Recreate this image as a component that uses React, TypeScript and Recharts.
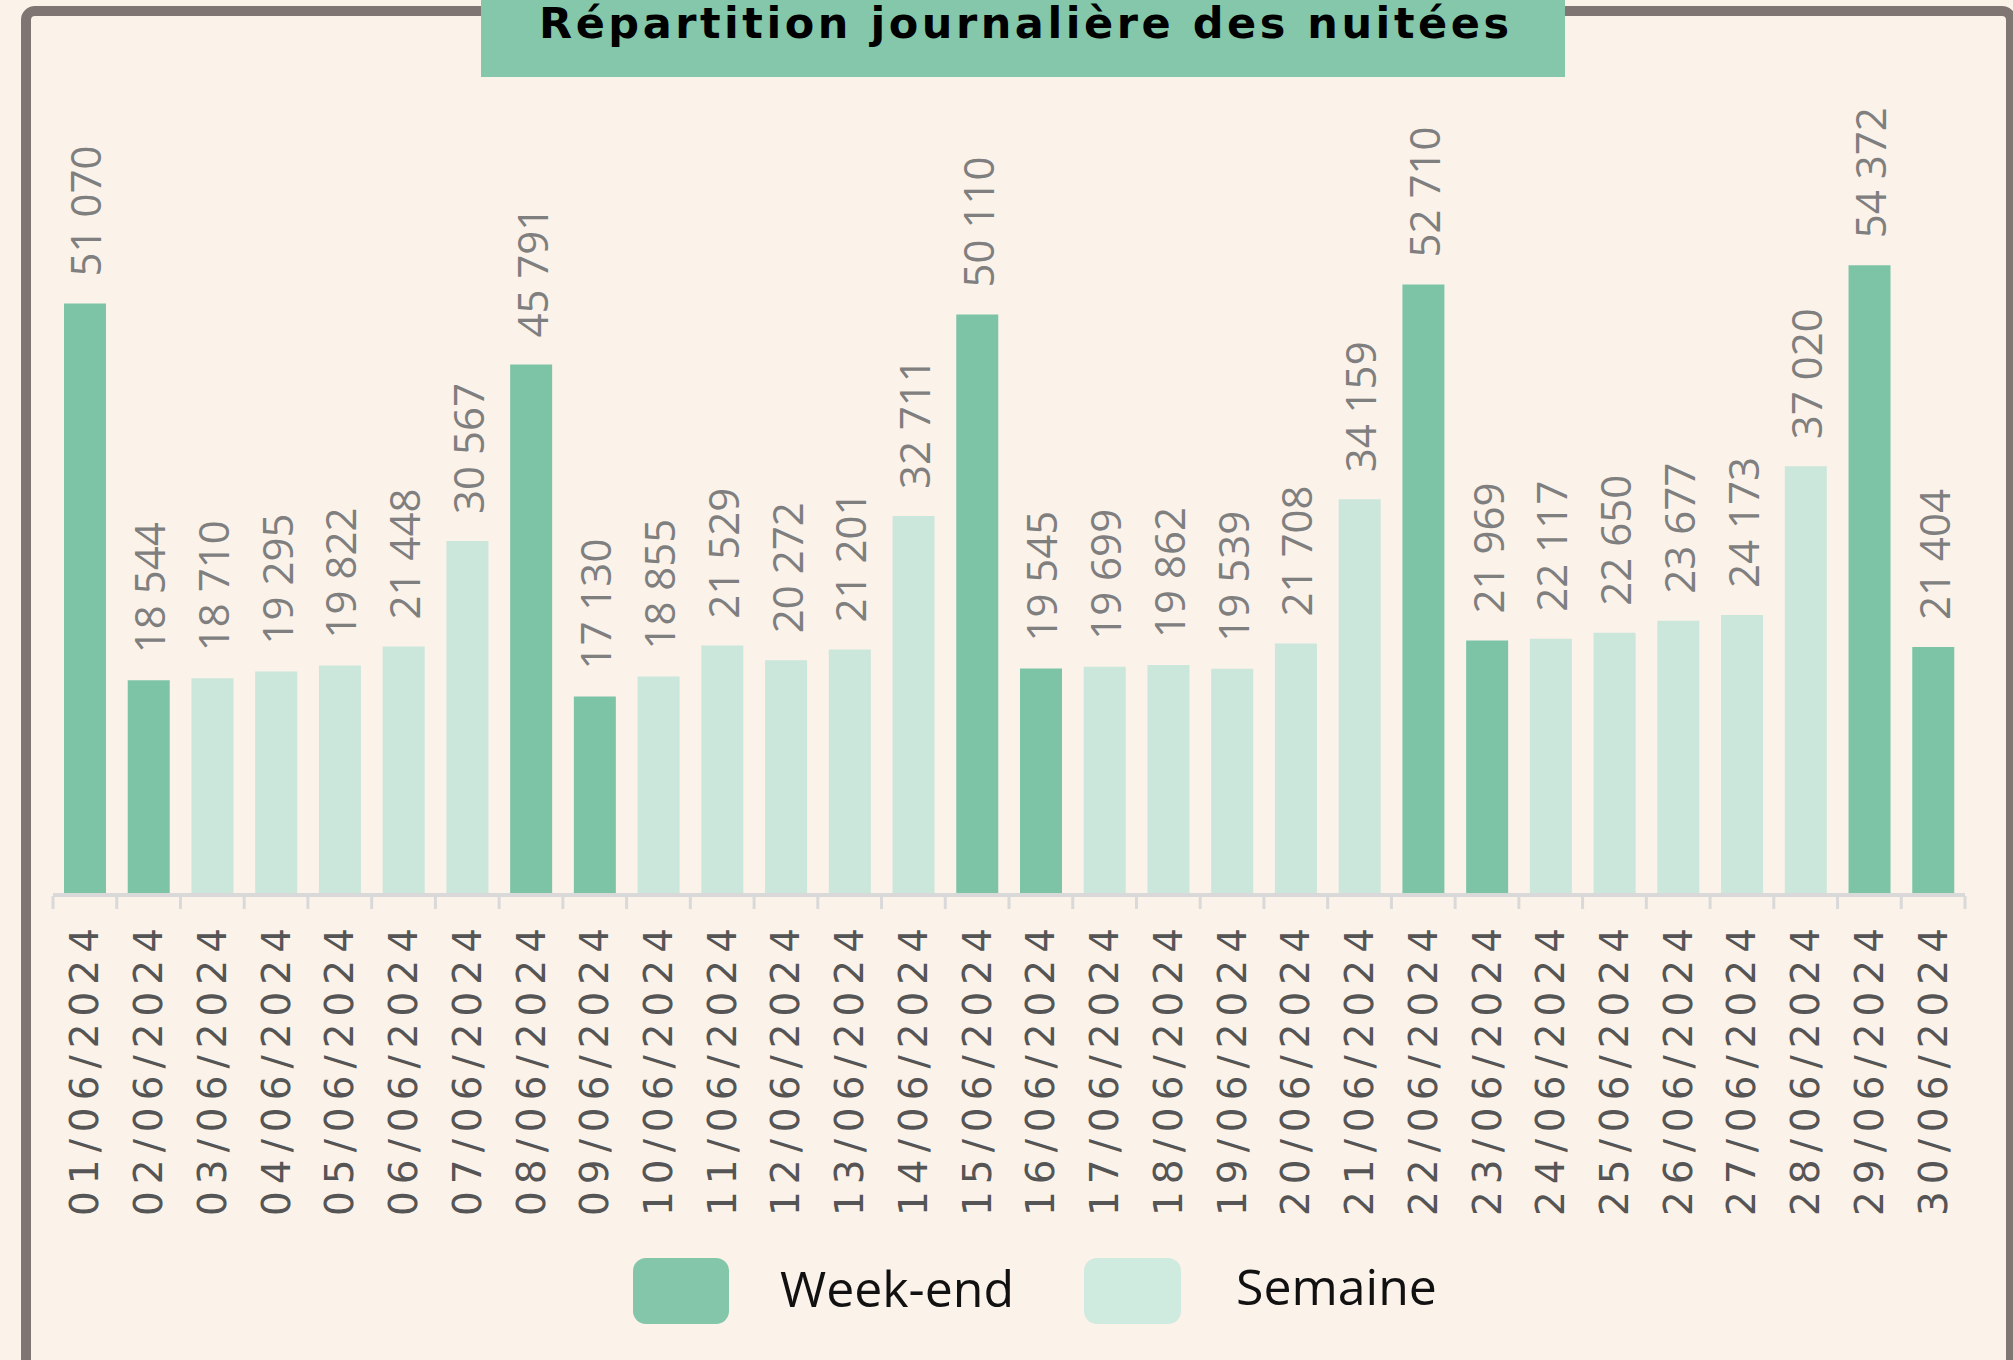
import { Bar, BarChart, Cell, LabelList, Legend, XAxis, YAxis } from 'recharts'

const DATES = [
  '01/06/2024', '02/06/2024', '03/06/2024', '04/06/2024', '05/06/2024',
  '06/06/2024', '07/06/2024', '08/06/2024', '09/06/2024', '10/06/2024',
  '11/06/2024', '12/06/2024', '13/06/2024', '14/06/2024', '15/06/2024',
  '16/06/2024', '17/06/2024', '18/06/2024', '19/06/2024', '20/06/2024',
  '21/06/2024', '22/06/2024', '23/06/2024', '24/06/2024', '25/06/2024',
  '26/06/2024', '27/06/2024', '28/06/2024', '29/06/2024', '30/06/2024',
]

const NUITEES = [
  51070, 18544, 18710, 19295, 19822, 21448, 30567, 45791, 17130, 18855,
  21529, 20272, 21201, 32711, 50110, 19545, 19699, 19862, 19539, 21708,
  34159, 52710, 21969, 22117, 22650, 23677, 24173, 37020, 54372, 21404,
]

// true = week-end (samedi / dimanche)
const WEEKEND = [
  true, true, false, false, false, false, false, true, true, false,
  false, false, false, false, true, true, false, false, false, false,
  false, true, true, false, false, false, false, false, true, true,
]

const LEGEND_LABELS = ['Week-end', 'Semaine']

const WEEKEND_COLOR = '#7DC4A7'
const SEMAINE_COLOR = '#CBE6DB'
const BG = '#FBF2EA'
const FONT = '"Open Sans", "DejaVu Sans", sans-serif'
const WIDE_FONT = '"DejaVu Sans", "Open Sans", sans-serif'

const W = 2013
const H = 1360
const MARGIN = { top: 200, right: 48, bottom: 135, left: 53 }
const BAND = (W - MARGIN.left - MARGIN.right) / DATES.length

const data = DATES.map((date, i) => ({
  date,
  value: NUITEES[i],
  weekend: WEEKEND[i],
}))

function formatValue(v: number) {
  return String(v).replace(/\B(?=(\d{3})+(?!\d))/g, ' ')
}

function DateTick(props: any) {
  const { x, y, payload, index } = props
  const half = payload?.offset ?? BAND / 2
  const ty = y + 33
  return (
    <g>
      <line x1={x - half} x2={x - half} y1={y + 1} y2={y + 14} stroke="#D9D9D9" strokeWidth={3} />
      {index === DATES.length - 1 && (
        <line x1={x + half} x2={x + half} y1={y + 1} y2={y + 14} stroke="#D9D9D9" strokeWidth={3} />
      )}
      <text
        x={x}
        y={ty}
        transform={`rotate(-90, ${x}, ${ty})`}
        textAnchor="end"
        dominantBaseline="central"
        fill="#555"
        fontSize={39}
        fontFamily={WIDE_FONT}
        textLength={288}
        lengthAdjust="spacing"
      >
        {payload.value}
      </text>
    </g>
  )
}

function ValueLabel(props: any) {
  const { x, y, width, value } = props
  const cx = x + width / 2
  const ty = y - 27
  return (
    <text
      x={cx}
      y={ty}
      transform={`rotate(-90, ${cx}, ${ty})`}
      textAnchor="start"
      dominantBaseline="central"
      fill="#7F7F7F"
      fontSize={42}
      fontFamily={FONT}
    >
      {formatValue(value)}
    </text>
  )
}

function LegendContent() {
  return (
    <svg width={W} height={80}>
      <rect x={633} y={8} width={96} height={66} rx={13} fill="#84C6A9" />
      <text x={780} y={57} fontSize={50} fontFamily={FONT} fill="#111">
        {LEGEND_LABELS[0]}
      </text>
      <rect x={1084} y={8} width={97} height={66} rx={13} fill="#CFEADE" />
      <text x={1236} y={55} fontSize={50} fontFamily={FONT} fill="#111">
        {LEGEND_LABELS[1]}
      </text>
    </svg>
  )
}

export default function App() {
  return (
    <div
      style={{
        position: 'absolute',
        left: 0,
        top: 0,
        width: W,
        height: H,
        overflow: 'hidden',
        background: BG,
      }}
    >
      <div
        style={{
          position: 'absolute',
          left: 21,
          top: 6,
          width: 1995,
          height: 1400,
          border: '10px solid #7F7674',
          borderRadius: 14,
          boxSizing: 'border-box',
        }}
      />
      <div style={{ position: 'absolute', left: 0, top: 0 }}>
        <BarChart width={W} height={H} data={data} margin={MARGIN}>
          <XAxis
            dataKey="date"
            interval={0}
            height={330}
            tickSize={0}
            tickMargin={0}
            tickLine={false}
            axisLine={{ stroke: '#D9D9D9', strokeWidth: 4 }}
            tick={<DateTick />}
          />
          <YAxis hide domain={[0, 60000]} />
          <Legend
            layout="horizontal"
            verticalAlign="middle"
            align="center"
            content={<LegendContent />}
            wrapperStyle={{ top: 1250, left: 0, width: W, height: 80 }}
          />
          <Bar dataKey="value" barSize={42} isAnimationActive={false}>
            {data.map((d) => (
              <Cell key={d.date} fill={d.weekend ? WEEKEND_COLOR : SEMAINE_COLOR} />
            ))}
            <LabelList dataKey="value" content={<ValueLabel />} />
          </Bar>
        </BarChart>
      </div>
      <div
        style={{
          position: 'absolute',
          left: 481,
          top: 0,
          width: 1084,
          height: 77,
          background: '#84C7AA',
        }}
      >
        <svg width={1084} height={77}>
          <text
            x={58}
            y={38}
            fontSize={43}
            fontWeight={700}
            fontFamily={WIDE_FONT}
            fill="#000"
            textLength={970}
            lengthAdjust="spacing"
          >
            Répartition journalière des nuitées
          </text>
        </svg>
      </div>
    </div>
  )
}
